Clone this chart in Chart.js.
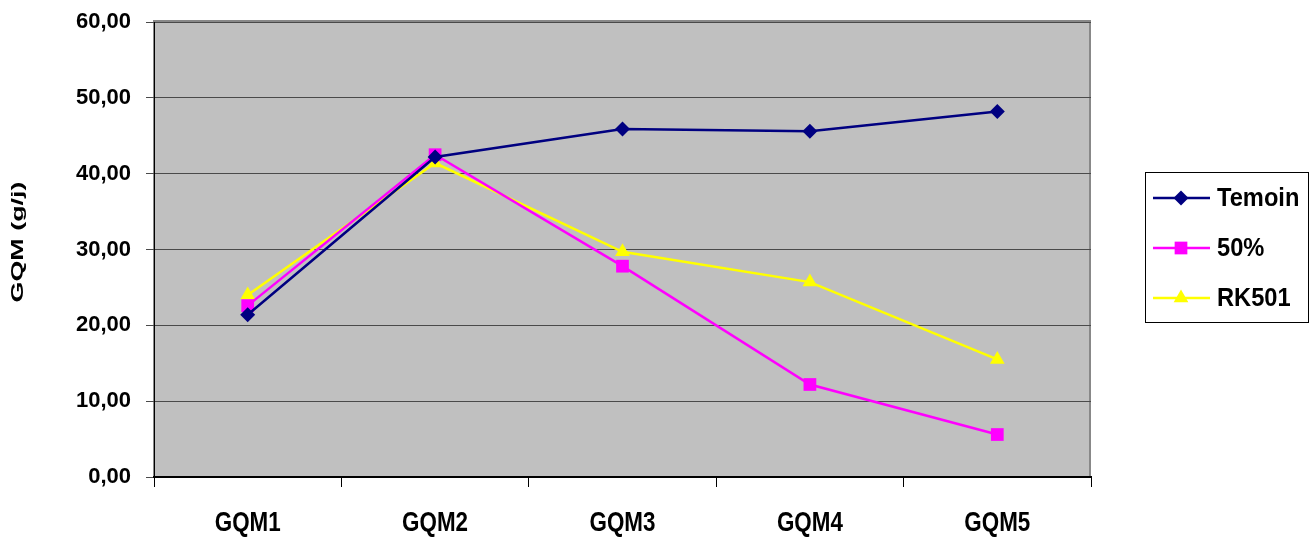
<!DOCTYPE html>
<html>
<head>
<meta charset="utf-8">
<script src="https://cdn.jsdelivr.net/npm/chart.js@4"></script>
<style>
  html, body { margin: 0; padding: 0; background: #fff; }
  #wrap { width: 1316px; height: 540px; }
</style>
</head>
<body>
<div id="wrap"><canvas id="gqm"></canvas></div>
<script>
const categories = ["GQM1", "GQM2", "GQM3", "GQM4", "GQM5"];
const temoin = [21.4, 42.2, 45.9, 45.6, 48.2];
const moitie = [22.6, 42.5, 27.8, 12.2, 5.6];
const rk501 = [24.0, 41.4, 29.7, 25.7, 15.5];
const yTicks = [0, 10, 20, 30, 40, 50, 60];

const boldFont = "'Liberation Sans', Arial, sans-serif";

// draws text squeezed or stretched horizontally (no narrow face installed)
function drawScaledText(ctx, text, x, y, sx, align) {
    ctx.save();
    ctx.translate(x, y);
    ctx.scale(sx, 1);
    ctx.textAlign = align;
    ctx.textBaseline = "middle";
    ctx.fillText(text, 0, 0);
    ctx.restore();
}

// grey plot background with a thin frame, like an old spreadsheet chart
const plotBackground = {
    id: "plotBackground",
    beforeDraw(chart) {
        const { ctx, chartArea: a } = chart;
        ctx.save();
        ctx.fillStyle = "#c0c0c0";
        ctx.fillRect(a.left, a.top, a.right - a.left, a.bottom - a.top);
        ctx.strokeStyle = "#888888";
        ctx.lineWidth = 2;
        ctx.strokeRect(a.left, a.top - 1, a.right - a.left - 1, a.bottom - a.top + 1);
        ctx.restore();
    }
};

// category labels under the x axis and the rotated y title
const axisText = {
    id: "axisText",
    afterDraw(chart) {
        const { ctx, chartArea: a } = chart;
        const x = chart.scales.x;
        ctx.save();
        ctx.fillStyle = "#000";
        ctx.font = "bold 28px " + boldFont;
        chart.data.labels.forEach((label, i) => {
            drawScaledText(ctx, label, x.getPixelForTick(i), a.bottom + 46, 0.8, "center");
        });

        ctx.font = "bold 16px " + boldFont;
        const title = "GQM (g/j)";
        const sx = 121 / ctx.measureText(title).width;
        ctx.translate(19, 242);
        ctx.rotate(-Math.PI / 2);
        drawScaledText(ctx, title, 0, 0, sx, "center");
        ctx.restore();
    }
};

// boxed legend to the right of the plot
const boxLegend = {
    id: "boxLegend",
    afterDraw(chart) {
        const { ctx } = chart;
        const box = { x: 1145.5, y: 172.5, w: 163, h: 150 };
        ctx.save();
        ctx.fillStyle = "#fff";
        ctx.fillRect(box.x, box.y, box.w, box.h);
        ctx.strokeStyle = "#000";
        ctx.lineWidth = 1;
        ctx.strokeRect(box.x, box.y, box.w, box.h);
        chart.data.datasets.forEach((ds, i) => {
            const y = 198 + i * 50;
            ctx.strokeStyle = ds.borderColor;
            ctx.lineWidth = ds.borderWidth;
            ctx.beginPath();
            ctx.moveTo(1153, y);
            ctx.lineTo(1210, y);
            ctx.stroke();
            ctx.fillStyle = ds.backgroundColor;
            Chart.helpers.drawPoint(ctx, {
                pointStyle: ds.pointStyle,
                radius: ds.pointRadius,
                borderWidth: 0
            }, 1181, y);
            ctx.fillStyle = "#000";
            ctx.font = "bold 26px " + boldFont;
            drawScaledText(ctx, ds.label, 1217, y + 1, 0.91, "left");
        });
        ctx.restore();
    }
};

new Chart(document.getElementById("gqm"), {
    type: "line",
    data: {
        labels: categories,
        datasets: [
            {
                label: "Temoin",
                data: temoin,
                borderColor: "#000080",
                backgroundColor: "#000080",
                borderWidth: 2.5,
                pointStyle: "rectRot",
                pointRadius: 7.5,
                pointBorderWidth: 0
            },
            {
                label: "50%",
                data: moitie,
                borderColor: "#ff00ff",
                backgroundColor: "#ff00ff",
                borderWidth: 2.5,
                pointStyle: "rect",
                pointRadius: 9,
                pointBorderWidth: 0
            },
            {
                label: "RK501",
                data: rk501,
                borderColor: "#ffff00",
                backgroundColor: "#ffff00",
                borderWidth: 2.5,
                pointStyle: "triangle",
                pointRadius: 8.5,
                pointBorderWidth: 0
            }
        ]
    },
    options: {
        responsive: true,
        maintainAspectRatio: false,
        animation: false,
        layout: { padding: { top: 22, right: 225, left: 0, bottom: 0 } },
        plugins: {
            legend: { display: false },
            tooltip: { enabled: false }
        },
        scales: {
            x: {
                offset: true,
                grid: {
                    offset: true,
                    drawOnChartArea: false,
                    tickLength: 10,
                    color: "#000"
                },
                border: { color: "#000", width: 2 },
                ticks: { display: false },
                afterFit(scale) { scale.height = 63; }
            },
            y: {
                min: 0,
                max: 60,
                afterBuildTicks(scale) {
                    scale.ticks = yTicks.map(v => ({ value: v }));
                },
                grid: {
                    color: "#4a4a4a",
                    tickLength: 8
                },
                border: { color: "#000", width: 1 },
                ticks: {
                    color: "#000",
                    padding: 15,
                    font: { family: boldFont, size: 22, weight: "bold" },
                    callback: v => v.toFixed(2).replace(".", ",")
                },
                afterFit(scale) {
                    scale.width = 154;
                    scale.paddingTop = 0;
                    scale.paddingBottom = 0;
                }
            }
        }
    },
    plugins: [plotBackground, axisText, boxLegend]
});
</script>
</body>
</html>
